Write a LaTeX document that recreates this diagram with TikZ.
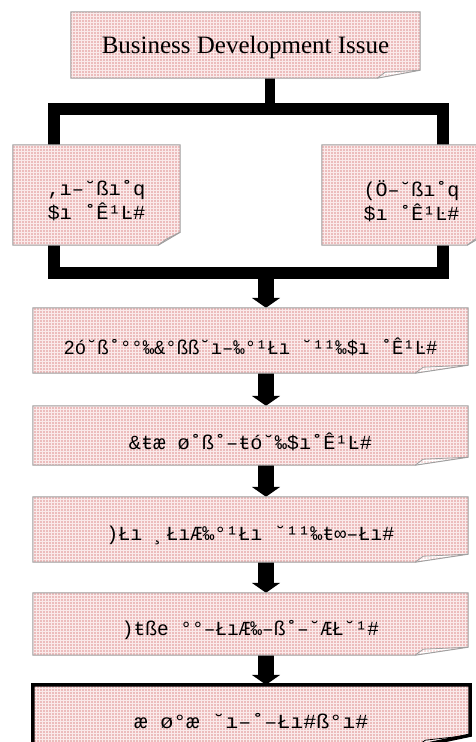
\documentclass[tikz,border=0pt]{standalone}
\usepackage{fontspec}
\setmainfont{Liberation Serif}
\newfontfamily\gfont{Liberation Mono}
\usetikzlibrary{arrows.meta,patterns,calc}
\definecolor{notepink}{RGB}{236,188,188}
\definecolor{gridwhite}{RGB}{250,234,234}
\definecolor{noteedge}{RGB}{160,160,160}
\definecolor{flappink}{RGB}{246,222,222}
\pgfdeclarelayer{lines}
\pgfdeclarelayer{boxes}
\pgfsetlayers{lines,boxes,main}
\newcommand{\gl}[2]{\raisebox{-6pt}[\height][\depth]{\resizebox{#1}{\height}{\gfont\fontsize{20}{24}\selectfont #2}}}
\newcommand{\notebg}[4]{% name, fold width, fold height, extra style
  \begin{pgfonlayer}{boxes}
  \path[fill=notepink,postaction={pattern=grid,pattern color=gridwhite}]
    (#1.north west) -- (#1.north east) -- ([yshift=#3]#1.south east)
    -- ([xshift=-#2]#1.south east) -- (#1.south west) -- cycle;
  \path[fill=flappink,postaction={pattern=grid,pattern color=white}]
    ([xshift=-#2]#1.south east) -- ([xshift=-#2+8pt,yshift=6pt]#1.south east)
    -- ([yshift=#3]#1.south east) -- cycle;
  \draw[#4,line join=miter]
    (#1.north west) -- (#1.north east) -- ([yshift=#3]#1.south east)
    -- ([xshift=-#2]#1.south east) -- (#1.south west) -- cycle;
  \draw[#4,line width=0.8pt]
    ([xshift=-#2]#1.south east) -- ([xshift=-#2+8pt,yshift=6pt]#1.south east)
    -- ([yshift=#3]#1.south east);
  \end{pgfonlayer}}
\tikzset{
  notebox/.style={inner sep=0pt,text=black,align=center},
  thinedge/.style={noteedge,line width=1pt},
  thickedge/.style={black,line width=3.5pt},
  bar/.style={black,line width=12pt,line join=miter},
  blockarrow/.style={black,line width=16pt,-{Triangle[length=10pt,width=28pt]}},
}
\begin{document}
\begin{tikzpicture}[x=1pt,y=-1pt]
\useasboundingbox (0,0) rectangle (475,742);
\clip (0,0) rectangle (475,742);

\node[notebox,minimum width=349pt,minimum height=66pt] (top) at (245.5,45)
  {\raisebox{-2pt}[\height][\depth]{\fontsize{25}{28}\selectfont Business Development Issue}};
\node[notebox,minimum width=167pt,minimum height=100pt] (L) at (96.5,195)
  {\gl{98pt}{,ı–˘ßı˚q}\\[2pt]\gl{98pt}{\$ı ˚Ê¹Ŀ\#}};
\node[notebox,minimum width=167pt,minimum height=100pt] (R) at (405.5,195)
  {\hspace*{12pt}\gl{96pt}{(Ö–˘ßı˚q}\\[2pt]\hspace*{12pt}\gl{96pt}{\$ı ˚Ê¹Ŀ\#}};
\node[notebox,minimum width=435pt,minimum height=65pt] (b3) at (250.5,340.5)
  {\gl{374pt}{2ó˘ß˚°°‰\&°ßß˘ı–‰°¹Łı ˘¹¹‰\$ı ˚Ê¹Ŀ\#}};
\node[notebox,minimum width=435pt,minimum height=59pt] (b4) at (250.5,435.5)
  {\gl{243pt}{\&ŧæ ø˚ß˚–ŧó˘‰\$ı˚Ê¹Ŀ\#}};
\node[notebox,minimum width=435pt,minimum height=65pt] (b5) at (250.5,529.5)
  {\gl{288pt}{)Łı ¸ŁıÆ‰°¹Łı ˘¹¹‰ŧ∞–Łı\#}};
\node[notebox,minimum width=435pt,minimum height=62pt] (b6) at (250.5,624)
  {\gl{257pt}{)ŧße °°–ŁıÆ‰–ß˚–˘ÆŁ˘¹\#}};
\node[notebox,minimum width=437pt,minimum height=61pt] (b7) at (251.5,715.5)
  {\gl{234pt}{æ ø°æ ˘ı–˚–Łı\#ß°ı\#}};

\notebg{top}{43pt}{8pt}{thinedge}
\notebg{L}{22pt}{13pt}{thinedge}
\notebg{R}{22pt}{13pt}{thinedge}
\notebg{b3}{53pt}{8pt}{thinedge}
\notebg{b4}{53pt}{8pt}{thinedge}
\notebg{b5}{53pt}{8pt}{thinedge}
\notebg{b6}{53pt}{8pt}{thinedge}
\notebg{b7}{53pt}{11pt}{thickedge}

\coordinate (stem) at (270,109);
\coordinate (brTL) at (54,109);
\coordinate (brTR) at (443,109);
\coordinate (brBR) at (443,273);
\coordinate (brBL) at (54,273);
\coordinate (ax) at (266,273);

\begin{pgfonlayer}{lines}
\fill[white] (0,0) rectangle (475,742);
\draw[black,line width=10pt] (top.south -| stem) -- (stem);
\draw[bar] (brTL) -- (brTR) -- (brBR) -- (brBL) -- cycle;
\draw[blockarrow] (ax) -- (b3.north -| ax);
\draw[blockarrow] (b3.south -| ax) -- (b4.north -| ax);
\draw[blockarrow] (b4.south -| ax) -- (b5.north -| ax);
\draw[blockarrow] (b5.south -| ax) -- (b6.north -| ax);
\draw[blockarrow] (b6.south -| ax) -- (b7.north -| ax);
\end{pgfonlayer}
\end{tikzpicture}
\end{document}
